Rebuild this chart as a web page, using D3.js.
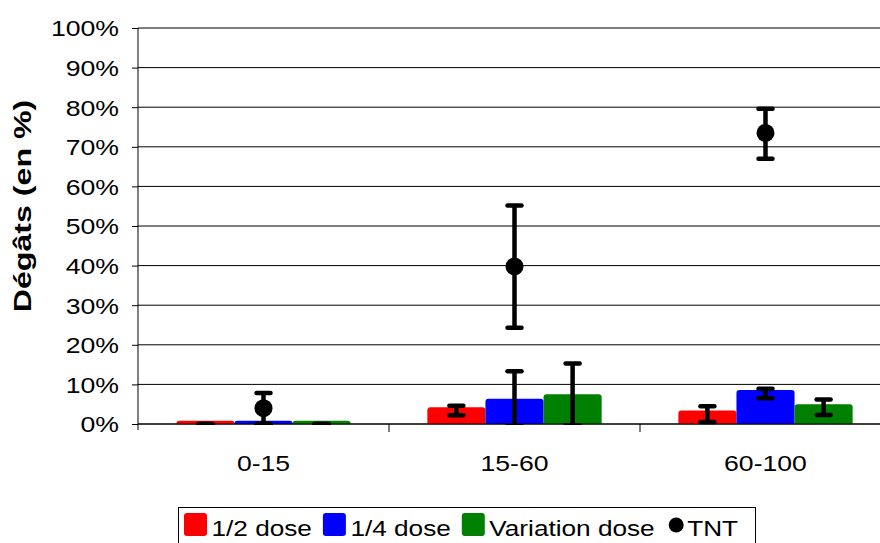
<!DOCTYPE html>
<html>
<head>
<meta charset="utf-8">
<script src="https://cdn.jsdelivr.net/npm/d3@7"></script>
<style>
  body { margin: 0; background: #fff; }
  svg text { font-family: "Liberation Sans", Arial, sans-serif; font-size: 22px; fill: #000; }
</style>
</head>
<body>
<div id="chart"></div>
<script>
// categories and series (values in %)
var categories = ["0-15", "15-60", "60-100"];
var seriesNames = ["1/2 dose", "1/4 dose", "Variation dose"];
var seriesColors = ["#ff0000", "#0000ff", "#008000"];

var halfDose      = [0.8, 4.2, 3.4];
var halfDoseLow   = [0, 2.2, 0.5];
var halfDoseHigh  = [0, 4.6, 4.5];

var quarterDose     = [0.8, 6.4, 8.6];
var quarterDoseLow  = [0, -0.5, 6.5];
var quarterDoseHigh = [0, 13.3, 8.9];

var varDose     = [0.8, 7.5, 5.0];
var varDoseLow  = [0, -0.3, 2.3];
var varDoseHigh = [0, 15.3, 6.2];

var tnt     = [4.0, 39.8, 73.5];
var tntLow  = [0, 24.3, 67.0];
var tntHigh = [7.8, 55.2, 79.6];

var yTicks = [0, 10, 20, 30, 40, 50, 60, 70, 80, 90, 100];

var barValues = [halfDose, quarterDose, varDose];
var barLow    = [halfDoseLow, quarterDoseLow, varDoseLow];
var barHigh   = [halfDoseHigh, quarterDoseHigh, varDoseHigh];

// layout
var W = 880, H = 543;
var plotL = 138, plotR = 891, plotT = 28, plotB = 424;
var sx = 1.21; // horizontal stretch of the text in the reference

var svg = d3.select("#chart").append("svg").attr("width", W).attr("height", H);

var x0 = d3.scaleBand().domain(categories).range([plotL, plotR]);
var x1 = d3.scaleBand().domain(d3.range(seriesNames.length)).range([0, x0.bandwidth()]).paddingOuter(0.66);
var y = d3.scaleLinear().domain([0, 100]).range([plotB, plotT]);

// gridlines
svg.append("g").selectAll("line").data(yTicks).enter()
    .append("line")
    .attr("x1", plotL).attr("x2", plotR)
    .attr("y1", function(d) { return y(d); }).attr("y2", function(d) { return y(d); })
    .attr("stroke", "#000").attr("stroke-width", 1);

// bars
var bars = [];
barValues.forEach(function(vals, s) {
    vals.forEach(function(v, i) {
        bars.push({ s: s, c: categories[i], v: v, lo: barLow[s][i], hi: barHigh[s][i] });
    });
});

svg.append("g").selectAll("path").data(bars).enter()
    .append("path")
    .attr("fill", function(d) { return seriesColors[d.s]; })
    .attr("d", function(d) {
        var bx = x0(d.c) + x1(d.s), bw = x1.bandwidth();
        var by = y(d.v), bh = y(0) - by, r = Math.min(3, bh);
        return "M" + bx + "," + y(0) + "V" + (by + r) + "Q" + bx + "," + by + " " + (bx + r) + "," + by +
               "H" + (bx + bw - r) + "Q" + (bx + bw) + "," + by + " " + (bx + bw) + "," + (by + r) + "V" + y(0) + "Z";
    });

// axes
var yAxis = svg.append("g").attr("transform", "translate(" + plotL + ",0)")
    .call(d3.axisLeft(y).tickValues(yTicks).tickSize(6).tickPadding(0).tickFormat(function(d) { return d + "%"; }));
yAxis.select(".domain").attr("stroke", "#000").attr("d", "M0," + plotT + "V" + (plotB + 6));
yAxis.selectAll(".tick line").attr("stroke", "#000");
yAxis.selectAll(".tick text")
    .attr("x", 0).attr("dy", "0.36em")
    .attr("transform", "translate(-19,0) scale(" + sx + ",1)")
    .style("font-family", "Liberation Sans, Arial, sans-serif").style("font-size", "22px").attr("fill", "#000");

var xAxis = svg.append("g").attr("transform", "translate(0," + plotB + ")");
xAxis.append("line").attr("x1", plotL).attr("x2", plotR).attr("stroke", "#000");
xAxis.selectAll(".sep").data(categories).enter()
    .append("line").attr("class", "sep")
    .attr("x1", function(d) { return x0(d) + x0.bandwidth(); })
    .attr("x2", function(d) { return x0(d) + x0.bandwidth(); })
    .attr("y1", 0).attr("y2", 8).attr("stroke", "#000");
xAxis.selectAll("text").data(categories).enter()
    .append("text")
    .attr("text-anchor", "middle")
    .attr("transform", function(d) { return "translate(" + (x0(d) + x0.bandwidth() / 2) + ",47) scale(" + sx + ",1)"; })
    .text(function(d) { return d; });

// y title
svg.append("text")
    .attr("text-anchor", "middle")
    .attr("font-weight", "bold")
    .style("font-size", "24px")
    .attr("transform", "translate(31,206) rotate(-90) scale(1.34,1)")
    .text("Dégâts (en %)");

// error bars
svg.append("clipPath").attr("id", "plotclip")
    .append("rect").attr("x", plotL).attr("y", 0).attr("width", plotR - plotL).attr("height", plotB + 1);

var capW = 18;
function drawErr(g, cx, lo, hi) {
    g.append("line").attr("x1", cx).attr("x2", cx).attr("y1", y(lo)).attr("y2", y(hi))
        .attr("stroke", "#000").attr("stroke-width", 4.5);
    [lo, hi].forEach(function(v) {
        g.append("line").attr("x1", cx - capW / 2 + 2).attr("x2", cx + capW / 2 - 2)
            .attr("y1", y(v)).attr("y2", y(v))
            .attr("stroke", "#000").attr("stroke-width", 4.5).attr("stroke-linecap", "round");
    });
}
var errG = svg.append("g").attr("clip-path", "url(#plotclip)");
bars.forEach(function(d) {
    drawErr(errG, x0(d.c) + x1(d.s) + x1.bandwidth() / 2, d.lo, d.hi);
});
categories.forEach(function(c, i) {
    drawErr(errG, x0(c) + x0.bandwidth() / 2, tntLow[i], tntHigh[i]);
});

// TNT points
svg.append("g").selectAll("circle").data(tnt).enter()
    .append("circle")
    .attr("cx", function(d, i) { return x0(categories[i]) + x0.bandwidth() / 2; })
    .attr("cy", function(d) { return y(d); })
    .attr("r", 9).attr("fill", "#000");

// legend
var legend = svg.append("g");
legend.append("rect").attr("x", 178.5).attr("y", 507.5).attr("width", 577).attr("height", 60)
    .attr("fill", "#fff").attr("stroke", "#000");
var lx = 184, baseY = 536, lsx = 1.19;
var items = seriesNames.map(function(n, i) { return { name: n, color: seriesColors[i], type: "rect" }; });
items.push({ name: "TNT", color: "#000", type: "circle" });
items.forEach(function(it) {
    if (it.type === "rect") {
        legend.append("rect").attr("x", lx).attr("y", 513).attr("width", 23).attr("height", 23)
            .attr("rx", 3).attr("fill", it.color);
        lx += 27.5;
    } else {
        legend.append("circle").attr("cx", lx + 10.5).attr("cy", 525).attr("r", 7.5).attr("fill", it.color);
        lx += 21.5;
    }
    var t = legend.append("text")
        .attr("transform", "translate(" + lx + "," + baseY + ") scale(" + lsx + ",1)")
        .text(it.name);
    lx += t.node().getComputedTextLength() * lsx + 11;
});
</script>
</body>
</html>
